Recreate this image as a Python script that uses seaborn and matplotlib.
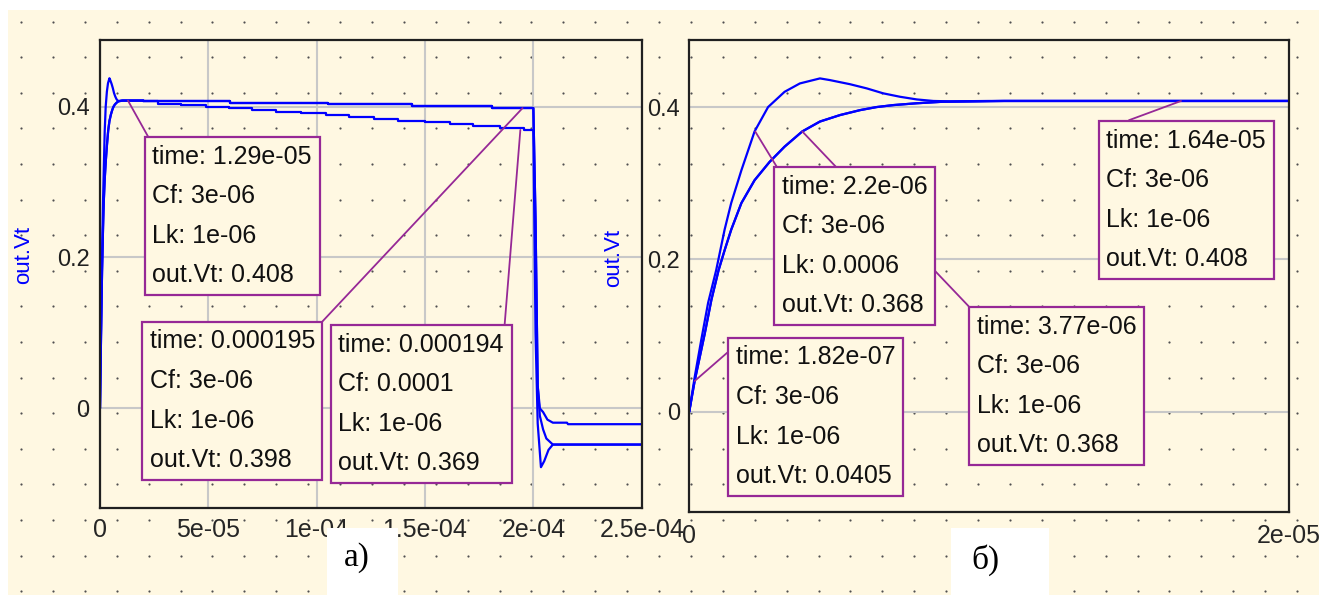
import numpy as np
import pandas as pd
import seaborn as sns
import matplotlib.pyplot as plt
from matplotlib.patches import Rectangle

sns.set_theme(style='white')
plt.rcParams['font.family'] = ['Liberation Sans', 'DejaVu Sans']

W, H = 1319, 595
CREAM = '#FFF8E2'
BLUE = '#0000FF'
PURPLE = '#962896'

# rise, Cf=3e-06 Lk=0.0006 (overshoot), time in s
fast_t = [0, 0.18e-6, 0.40e-6, 0.63e-6, 0.90e-6, 1.18e-6, 1.40e-6, 1.74e-6, 2.18e-6, 2.63e-6,
          3.18e-6, 3.69e-6, 4.36e-6, 4.69e-6, 5.36e-6, 5.92e-6, 6.47e-6, 7.03e-6, 7.59e-6,
          8.14e-6, 8.70e-6, 10e-6, 20e-6]
fast_v = [0, 0.045, 0.094, 0.143, 0.186, 0.239, 0.274, 0.317, 0.368, 0.400,
          0.420, 0.431, 0.4376, 0.4354, 0.430, 0.4245, 0.418, 0.4135, 0.410,
          0.408, 0.4075, 0.408, 0.408]
# rise, Lk=1e-06
slow_t = [0, 0.182e-6, 0.52e-6, 0.74e-6, 0.98e-6, 1.18e-6, 1.40e-6, 1.74e-6, 2.18e-6, 2.68e-6,
          3.18e-6, 3.77e-6, 4.36e-6, 5.03e-6, 5.70e-6, 6.25e-6, 6.81e-6, 7.59e-6, 8.47e-6,
          10.5e-6, 20e-6]
slow_v = [0, 0.0405, 0.103, 0.147, 0.186, 0.212, 0.239, 0.274, 0.304, 0.328,
          0.348, 0.368, 0.381, 0.3895, 0.396, 0.400, 0.4026, 0.405, 0.407,
          0.408, 0.408]
# plateau, Cf=3e-06
hi_t = [2.0e-5, 2.7e-5, 6.0e-5, 1.05e-4, 1.44e-4, 1.81e-4, 2.0e-4]
hi_v = [0.408, 0.407, 0.405, 0.403, 0.401, 0.398, 0.398]
# plateau, Cf=0.0001
lo_t = [2.0e-5, 2.67e-5, 3.74e-5, 4.9e-5, 5.97e-5, 7.03e-5, 8.1e-5, 9.26e-5, 1.043e-4,
        1.15e-4, 1.266e-4, 1.373e-4, 1.499e-4, 1.616e-4, 1.723e-4, 1.848e-4, 1.956e-4, 2.0e-4]
lo_v = [0.408, 0.404, 0.402, 0.400, 0.398, 0.395, 0.393, 0.391, 0.389,
        0.386, 0.384, 0.381, 0.379, 0.377, 0.374, 0.371, 0.369, 0.369]
# switch-off after 2e-4
offA_t = [2.0e-4, 2.01e-4, 2.02e-4, 2.03e-4, 2.045e-4, 2.065e-4, 2.09e-4, 2.155e-4, 2.16e-4, 2.5e-4]
offA_v = [0.398, 0.25, 0.03, 0.0, -0.005, -0.015, -0.019, -0.019, -0.021, -0.021]
offB_t = [2.0e-4, 2.01e-4, 2.02e-4, 2.035e-4, 2.05e-4, 2.07e-4, 2.09e-4, 2.5e-4]
offB_v = [0.369, 0.1, -0.02, -0.078, -0.07, -0.055, -0.048, -0.048]
offC_t = [2.0e-4, 2.01e-4, 2.02e-4, 2.03e-4, 2.045e-4, 2.06e-4, 2.09e-4, 2.5e-4]
offC_v = [0.398, 0.25, 0.03, -0.01, -0.028, -0.04, -0.048, -0.048]

curves = [
    [(slow_t, slow_v, 'default'), (hi_t, hi_v, 'steps-post'), (offA_t, offA_v, 'default')],
    [(slow_t, slow_v, 'default'), (lo_t, lo_v, 'steps-post'), (offB_t, offB_v, 'default')],
    [(fast_t, fast_v, 'default'), (hi_t, hi_v, 'steps-post'), (offC_t, offC_v, 'default')],
]

# markers (time, out.Vt, Cf, Lk)
left_t = [1.29e-5, 1.95e-4, 1.94e-4]
left_v = [0.408, 0.398, 0.369]
left_cf = [3e-6, 3e-6, 1e-4]
left_lk = [1e-6, 1e-6, 1e-6]
right_t = [3.77e-6, 2.2e-6, 1.64e-5, 1.82e-7]
right_v = [0.368, 0.368, 0.408, 0.0405]
right_cf = [3e-6, 3e-6, 3e-6, 3e-6]
right_lk = [1e-6, 6e-4, 1e-6, 1e-6]

left_xticks = [0, 5e-5, 1e-4, 1.5e-4, 2e-4, 2.5e-4]
left_xlabels = ['0', '5e-05', '1e-04', '1.5e-04', '2e-04', '2.5e-04']
right_xticks = [0, 2e-5]
right_xlabels = ['0', '2e-05']
yticks = [0, 0.2, 0.4]
ylabels = ['0', '0.2', '0.4']

fig = plt.figure(figsize=(W / 100, H / 100), dpi=100, facecolor='white')

# dotted paper background
bg = fig.add_axes([0, 0, 1, 1], zorder=0)
bg.set_xlim(0, W)
bg.set_ylim(H, 0)
bg.axis('off')
bg.add_patch(Rectangle((8, 10), W - 8, H - 10, fc=CREAM, ec='none'))
gx, gy = np.meshgrid(np.arange(21, W, 31.9), np.arange(21.7, H, 35.6))
bg.scatter(gx.ravel(), gy.ravel(), s=2.5, c='#505050', linewidths=0)


def px_axes(x0, y0, x1, y1):
    return fig.add_axes([x0 / W, 1 - y1 / H, (x1 - x0) / W, (y1 - y0) / H], zorder=1)


axL = px_axes(100, 40, 641.7, 508.3)
axR = px_axes(689.2, 40, 1289, 511.7)

for ax in (axL, axR):
    ax.set_facecolor('none')
    for c in curves:
        for t, v, ds in c:
            sns.lineplot(x=t, y=v, ax=ax, color=BLUE, lw=1.6, estimator=None,
                         sort=False, drawstyle=ds)
    for s in ax.spines.values():
        s.set_color('#202020')
        s.set_linewidth(1.6)
    ax.set_yticks(yticks, ylabels)
    ax.tick_params(axis='y', direction='inout', length=13, width=1.5, pad=1,
                   labelsize=17, colors='#202020')
    ax.set_ylabel('out.Vt', color=BLUE, fontsize=16)
    ax.set_xlabel('')
    ax.set_axisbelow(True)

axL.set_xlim(0, 2.5e-4)
axL.set_ylim(-0.1325, 0.4883)
axL.set_xticks(left_xticks, left_xlabels)
axL.tick_params(axis='x', direction='in', length=7, width=1.5, pad=7, labelsize=18)
axL.grid(True, color='#C8C8C8', lw=1.5)
axL.yaxis.set_label_coords(-0.122, 0.541)

axR.set_xlim(0, 2e-5)
axR.set_ylim(-0.131, 0.488)
axR.set_xticks(right_xticks, right_xlabels)
axR.tick_params(axis='x', direction='out', length=7, width=1.5, pad=2, labelsize=18)
axR.tick_params(axis='y', pad=0)
axR.grid(True, axis='y', color='#C8C8C8', lw=1.5)
axR.yaxis.set_label_coords(-0.109, 0.538)


def marker_box(ax, t, v, cf, lk, corner, rel, z):
    txt = f'time: {t:.3g}\nCf: {cf:g}\nLk: {lk:g}\nout.Vt: {v:.3g}'
    x, y = corner
    ax.annotate(txt, xy=(t, v), xycoords='data',
                xytext=((x + 7.5) / W, 1 - (y + 7.5) / H), textcoords='figure fraction',
                ha='left', va='top', fontsize=18, linespacing=1.82, color='#101010',
                bbox=dict(boxstyle='square,pad=0.3', fc=CREAM, ec=PURPLE, lw=1.6),
                arrowprops=dict(arrowstyle='-', color=PURPLE, lw=1.3, relpos=rel,
                                shrinkA=0, shrinkB=0),
                zorder=z, annotation_clip=False)


left_corner = [(145, 137), (142, 322), (331, 325)]
left_rel = [(0, 1), (1, 1), (1, 1)]
for i in range(3):
    marker_box(axL, left_t[i], left_v[i], left_cf[i], left_lk[i], left_corner[i], left_rel[i], 5 + i)

right_corner = [(969, 307), (774, 167), (1099, 121), (728, 338)]
for i in range(4):
    marker_box(axR, right_t[i], right_v[i], right_cf[i], right_lk[i], right_corner[i], (0, 1), 5 + i)

# panel captions
top = fig.add_axes([0, 0, 1, 1], zorder=10)
top.set_xlim(0, W)
top.set_ylim(H, 0)
top.axis('off')
top.patch.set_alpha(0)
top.add_patch(Rectangle((327, 528), 71, 67, fc='white', ec='none'))
top.add_patch(Rectangle((951, 528), 98, 67, fc='white', ec='none'))
top.text(357, 558, 'а)', fontsize=24, family=['Liberation Serif', 'DejaVu Serif'],
         ha='center', va='center', color='black')
top.text(985, 560, 'б)', fontsize=24, family=['Liberation Serif', 'DejaVu Serif'],
         ha='center', va='center', color='black')

fig.savefig('out.png', dpi=100, facecolor='white')
